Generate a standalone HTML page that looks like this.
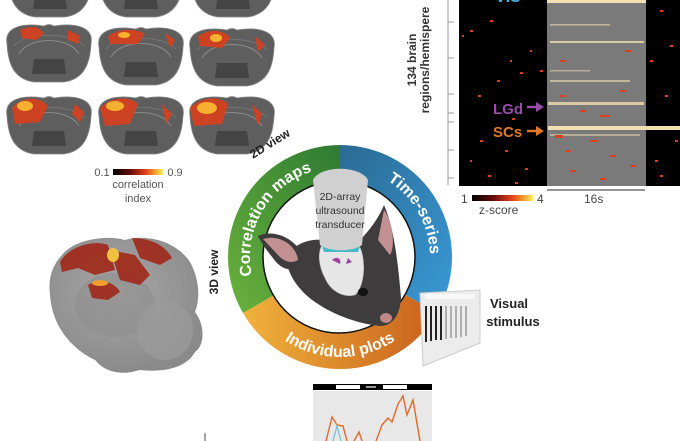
<!DOCTYPE html>
<html><head><meta charset="utf-8"><style>
html,body{margin:0;padding:0;background:#fff;}
svg{display:block;font-family:"Liberation Sans",sans-serif;}
</style></head><body>
<svg width="680" height="441" viewBox="0 0 680 441" xmlns="http://www.w3.org/2000/svg">
<defs>
<linearGradient id="hot" x1="0" x2="1"><stop offset="0" stop-color="#000"/><stop offset="0.35" stop-color="#6a0b0b"/><stop offset="0.65" stop-color="#e0401a"/><stop offset="0.85" stop-color="#f5a030"/><stop offset="1" stop-color="#f8f060"/></linearGradient>
<radialGradient id="g3d" cx="0.45" cy="0.4" r="0.6"><stop offset="0" stop-color="#a8a8a8"/><stop offset="1" stop-color="#8a8a8a"/></radialGradient>
<linearGradient id="gGreen" x1="0" y1="1" x2="1" y2="0"><stop offset="0" stop-color="#6ab23c"/><stop offset="1" stop-color="#2e7a32"/></linearGradient>
<linearGradient id="gBlue" x1="0" y1="0" x2="1" y2="1"><stop offset="0" stop-color="#2a6a92"/><stop offset="1" stop-color="#3a9ad8"/></linearGradient>
<linearGradient id="gOr" x1="0" x2="1"><stop offset="0" stop-color="#f0b23c"/><stop offset="1" stop-color="#c8601c"/></linearGradient>
<g id="slice">
<path d="M3,20 C0,5 15,-2 40,2 C44,0 46,0 50,2 C75,-2 90,5 87,20 C86,40 80,55 60,58 L30,58 C10,55 4,40 3,20Z" fill="#5e5e5e" stroke="#888" stroke-width="0.8"/>
<path d="M15,30 C25,12 65,12 75,30" fill="none" stroke="#8a8a8a" stroke-width="1"/>
<path d="M10,22 C20,8 70,8 80,22" fill="none" stroke="#7a7a7a" stroke-width="0.8"/>
<path d="M30,35 L60,35 L62,50 L28,50Z" fill="#444"/>
</g>
<path id="pTop" d="M262,302 A90,90 0 0 1 340,167"/>
<path id="pRight" d="M355.6,168.4 A90,90 0 0 1 424.6,287.8"/>
<path id="pBot" d="M249.4,299.3 A100,100 0 0 0 430.6,299.3"/>
</defs>

<!-- brain slices -->
<g>
<use href="#slice" x="5" y="-41"/><use href="#slice" x="96" y="-41"/><use href="#slice" x="188" y="-41"/>
<use href="#slice" x="4" y="24"/><use href="#slice" x="96" y="27"/><use href="#slice" x="187" y="28"/>
<use href="#slice" x="4" y="96"/><use href="#slice" x="96" y="96"/><use href="#slice" x="187" y="96"/>
<g fill="#d8401c" opacity="0.9">
<path d="M20,30 C30,25 40,26 44,34 L36,40 L22,38Z"/><path d="M68,30 L80,36 L78,44 L68,40Z"/>
<path d="M108,36 C120,28 135,28 145,34 L138,44 L110,44Z"/><path d="M165,33 L175,40 L170,48Z"/>
<path d="M198,36 C210,28 225,30 230,38 L222,48 L200,46Z"/><path d="M255,36 L265,45 L258,52Z"/>
<path d="M12,108 C22,96 40,96 48,106 L40,122 L15,124Z"/><path d="M75,104 L84,112 L80,122 L72,114Z"/>
<path d="M100,108 C112,96 130,96 138,104 L130,124 L105,126Z"/><path d="M162,104 L172,114 L166,124Z"/>
<path d="M190,108 C202,96 220,96 228,104 L222,124 L194,126Z"/><path d="M252,104 L262,114 L258,126Z"/>
</g>
<g fill="#f6b030">
<ellipse cx="25" cy="106" rx="8" ry="5"/><ellipse cx="115" cy="106" rx="9" ry="5"/><ellipse cx="207" cy="108" rx="10" ry="6"/><ellipse cx="216" cy="38" rx="6" ry="4"/><ellipse cx="124" cy="35" rx="6" ry="3"/>
</g>
</g>
<rect x="113" y="169" width="50" height="6" fill="url(#hot)"/>
<g font-size="11" fill="#555" text-anchor="middle">
<text x="102" y="176">0.1</text><text x="175" y="176">0.9</text>
<text x="138" y="188">correlation</text><text x="138" y="202">index</text>
</g>

<!-- heatmap -->
<rect x="459" y="0" width="221" height="186" fill="#000"/>
<rect x="547" y="0" width="99" height="186" fill="#7a7a7a"/>
<g fill="#f3e0b0">
<rect x="547" y="0" width="99" height="3"/>
<rect x="550" y="41" width="94" height="2" opacity="0.8"/>
<rect x="548" y="102" width="96" height="3" opacity="0.8"/>
<rect x="548" y="126" width="132" height="4"/>
<rect x="550" y="24" width="60" height="1.5" opacity="0.6"/>
<rect x="550" y="80" width="80" height="2" opacity="0.6"/>
<rect x="550" y="70" width="40" height="1.5" opacity="0.5"/>
<rect x="550" y="134" width="90" height="2" opacity="0.5"/>
</g>
<g fill="#d84020">
<rect x="470" y="30" width="3" height="2"/><rect x="520" y="72" width="3" height="2"/><rect x="510" y="60" width="2" height="2"/><rect x="497" y="80" width="3" height="2"/><rect x="480" y="140" width="3" height="2"/><rect x="525" y="168" width="3" height="2"/><rect x="470" y="160" width="2" height="2"/><rect x="540" y="70" width="3" height="2"/><rect x="660" y="10" width="3" height="2"/><rect x="670" y="45" width="3" height="2"/><rect x="655" y="160" width="3" height="2"/><rect x="665" y="95" width="3" height="2"/><rect x="490" y="20" width="3" height="2"/><rect x="505" y="150" width="3" height="2"/>
<rect x="462" y="35" width="2" height="2"/><rect x="478" y="95" width="3" height="2"/><rect x="512" y="118" width="3" height="2"/><rect x="530" y="50" width="2" height="2"/><rect x="488" y="175" width="3" height="2"/><rect x="515" y="182" width="3" height="2"/><rect x="675" y="140" width="3" height="2"/><rect x="650" y="60" width="3" height="2"/><rect x="660" y="175" width="3" height="2"/>
<rect x="560" y="60" width="6" height="2"/><rect x="590" y="140" width="8" height="2"/><rect x="610" y="155" width="6" height="2"/><rect x="570" y="170" width="6" height="2"/><rect x="620" y="90" width="6" height="2"/><rect x="600" y="115" width="10" height="2"/><rect x="555" y="135" width="8" height="3"/><rect x="630" y="165" width="6" height="2"/>
<rect x="565" y="150" width="6" height="2"/><rect x="580" y="110" width="6" height="2"/><rect x="625" y="50" width="6" height="2"/><rect x="600" y="178" width="6" height="2"/><rect x="560" y="95" width="6" height="2"/>
</g>
<line x1="448" y1="0" x2="448" y2="185" stroke="#999" stroke-width="1"/>
<g stroke="#999"><line x1="448" y1="22" x2="454" y2="22"/><line x1="448" y1="58" x2="454" y2="58"/><line x1="448" y1="94" x2="454" y2="94"/><line x1="448" y1="113" x2="454" y2="113"/><line x1="448" y1="122" x2="454" y2="122"/><line x1="448" y1="150" x2="454" y2="150"/><line x1="448" y1="178" x2="454" y2="178"/></g>
<g font-size="12" font-weight="bold" fill="#333" text-anchor="middle">
<text transform="translate(416,60) rotate(-90)">134 brain</text>
<text transform="translate(429,60) rotate(-90)">regions/hemispere</text>
</g>
<text x="495" y="2" font-size="16" font-weight="bold" fill="#40b0d8">VIS</text>
<text x="493" y="114" font-size="15" font-weight="bold" fill="#9a4aa8">LGd</text>
<path d="M527,107 L538,107" stroke="#9a4aa8" stroke-width="2.5"/><path d="M536,102 L544,107 L536,112Z" fill="#9a4aa8"/>
<text x="493" y="137" font-size="15" font-weight="bold" fill="#e07828">SCs</text>
<path d="M527,131 L538,131" stroke="#e07828" stroke-width="2.5"/><path d="M536,126 L544,131 L536,136Z" fill="#e07828"/>
<line x1="547" y1="190" x2="645" y2="190" stroke="#555" stroke-width="1.2"/>
<rect x="472" y="195" width="61" height="6" fill="url(#hot)"/>
<g font-size="12" fill="#444"><text x="461" y="203">1</text><text x="537" y="203">4</text><text x="584" y="203">16s</text><text x="479" y="214">z-score</text></g>

<!-- 3D brain -->
<path d="M62,255 C75,238 110,235 125,240 C145,234 175,240 190,262 C200,280 200,300 195,312 C205,325 205,345 195,352 C185,370 160,372 140,370 C120,376 105,372 95,360 C70,348 52,325 50,295 C48,278 52,266 62,255Z" fill="url(#g3d)"/>
<ellipse cx="115" cy="305" rx="40" ry="32" fill="#8e8e8e" opacity="0.6"/>
<ellipse cx="165" cy="330" rx="28" ry="30" fill="#9a9a9a" opacity="0.8"/>
<g fill="#a02818" opacity="0.9">
<path d="M60,262 C70,245 95,240 108,245 L115,270 L95,275 L78,268 L62,272Z"/>
<path d="M110,250 L135,255 L150,275 L140,285 L120,280Z"/>
<path d="M132,238 C150,238 165,245 172,258 L160,265 L140,258Z"/>
<path d="M88,285 C100,278 115,282 120,292 L108,300 L92,298Z"/>
</g>
<ellipse cx="113" cy="255" rx="6" ry="7" fill="#f0c040"/>
<ellipse cx="100" cy="283" rx="8" ry="3" fill="#f0a030"/>
<text transform="translate(218,272) rotate(-90)" font-size="12" font-weight="bold" fill="#222" text-anchor="middle">3D view</text>
<text transform="translate(272,147) rotate(-32)" font-size="12" font-weight="bold" fill="#222" text-anchor="middle">2D view</text>

<!-- ring -->
<path d="M340,257 L340,145 A112,112 0 0 1 437,313 Z" fill="url(#gBlue)"/>
<path d="M340,257 L437,313 A112,112 0 0 1 243,313 Z" fill="url(#gOr)"/>
<path d="M340,257 L243,313 A112,112 0 0 1 340,145 Z" fill="url(#gGreen)"/>
<circle cx="339" cy="257" r="76" fill="#fff" stroke="#111" stroke-width="1.5"/>
<g font-size="16" font-weight="bold" fill="#fff" text-anchor="middle">
<text><textPath href="#pTop" startOffset="50%">Correlation maps</textPath></text>
<text><textPath href="#pRight" startOffset="50%">Time-series</textPath></text>
<text><textPath href="#pBot" startOffset="50%">Individual plots</textPath></text>
</g>
<!-- mouse -->
<path d="M286,258 C292,245 308,238 325,240 L360,240 C372,228 380,215 384,205 C394,228 398,262 401,298 C400,316 392,326 380,326 C360,324 335,316 315,302 C298,290 288,275 286,258Z" fill="#3e3c3c"/>
<path d="M258,236 C275,228 300,240 305,262 C298,272 285,272 276,262 C268,252 262,244 258,236Z" fill="#3e3c3c"/>
<path d="M263,239 C278,234 296,244 298,260 C292,264 284,262 278,255Z" fill="#c29090"/>
<path d="M384,210 C392,220 396,245 390,255 L378,240Z" fill="#c29090"/>
<path d="M322,245 C330,236 350,234 358,244 C366,255 366,285 355,295 C342,298 330,290 325,278 C318,265 318,252 322,245Z" fill="#e6e6e6" stroke="#bbb" stroke-width="0.6"/>
<path d="M322,246 C332,240 348,240 360,246 L358,252 L324,252Z" fill="#48b8c8"/>
<path d="M332,260 C336,256 342,258 340,264 Z M348,258 L352,262 L346,264Z" fill="#a040a0"/>
<path d="M313,180 C320,165 360,165 368,180 L362,245 C352,252 330,252 320,245Z" fill="#d0d0d0"/>
<g font-size="10.5" fill="#333" text-anchor="middle"><text x="340" y="200">2D-array</text><text x="340" y="214">ultrasound</text><text x="340" y="228">transducer</text></g>
<ellipse cx="363" cy="292" rx="5" ry="4" fill="#111"/>
<ellipse cx="386" cy="318" rx="6" ry="5" fill="#c08888"/>
<!-- visual stimulus -->
<path d="M420,293 L480,290 L480,343 L423,366Z" fill="#ececec" stroke="#ccc"/>
<rect x="425" y="294" width="50" height="5" fill="#f8f8f8"/>
<g stroke="#222" stroke-width="2"><line x1="426" y1="306" x2="426" y2="342"/><line x1="431" y1="306" x2="431" y2="341"/><line x1="436" y1="306" x2="436" y2="340"/><line x1="441" y1="306" x2="441" y2="340"/></g>
<g stroke="#999" stroke-width="1.5"><line x1="446" y1="306" x2="446" y2="339"/><line x1="451" y1="306" x2="451" y2="338"/><line x1="456" y1="306" x2="456" y2="338"/><line x1="461" y1="306" x2="461" y2="337"/><line x1="466" y1="306" x2="466" y2="336"/></g>
<g font-size="13" font-weight="bold" fill="#222" text-anchor="middle"><text x="509" y="308">Visual</text><text x="513" y="326">stimulus</text></g>

<!-- bottom plot -->
<rect x="313" y="391" width="119" height="50" fill="#e8e8e8"/>
<rect x="313" y="384" width="119" height="6" fill="#000"/>
<rect x="336" y="385" width="24" height="4" fill="#fff"/><rect x="383" y="385" width="24" height="4" fill="#fff"/>
<path d="M366,387 L376,387" stroke="#fff" stroke-width="1.2"/>
<path d="M326,441 L332,417 L337,425 L343,426 L347,441 M354,441 L359,432 L362,441 M376,441 L382,425 L388,418 L392,422 L398,404 L403,396 L407,415 L413,400 L420,441" fill="none" stroke="#e0682a" stroke-width="1.4"/>
<path d="M333,441 L337,426 L341,441" fill="none" stroke="#70c0e0" stroke-width="1.2"/>
<line x1="205" y1="433" x2="205" y2="441" stroke="#444"/>
</svg>
</body></html>
